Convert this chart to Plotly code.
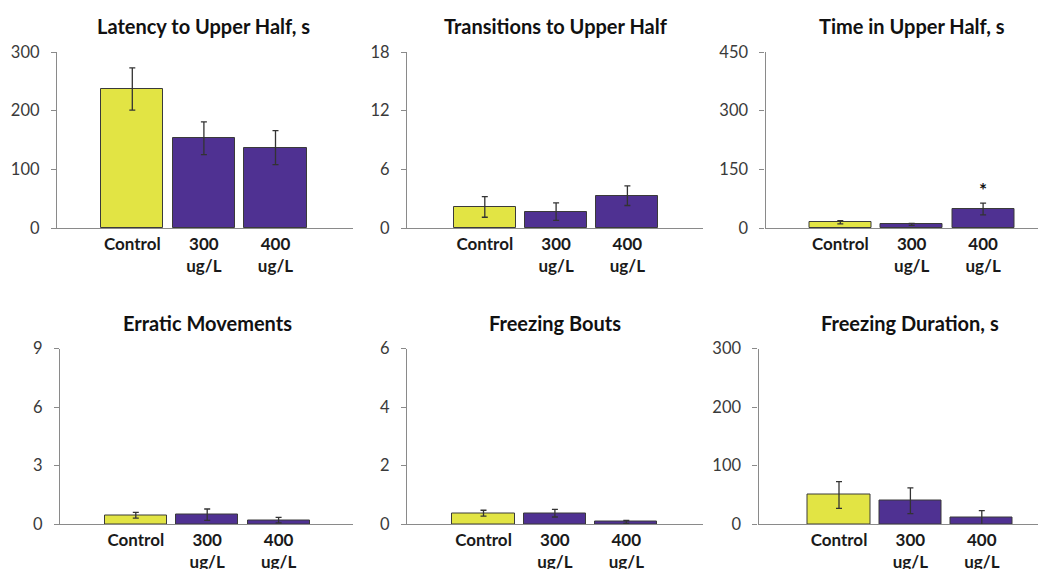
import plotly.graph_objects as go

categories = ["Control", "300<br>ug/L", "400<br>ug/L"]
titles = ["Latency to Upper Half, s", "Transitions to Upper Half", "Time in Upper Half, s",
          "Erratic Movements", "Freezing Bouts", "Freezing Duration, s"]

latency = [237, 153, 137]
latency_err = [36, 28, 29]
transitions = [2.15, 1.67, 3.3]
transitions_err = [1.05, 0.9, 1.0]
time_upper = [14.6, 9.4, 48.6]
time_upper_err = [4, 2.6, 15]
erratic = [0.45, 0.48, 0.2]
erratic_err = [0.15, 0.29, 0.14]
freezing_bouts = [0.37, 0.37, 0.07]
freezing_bouts_err = [0.1, 0.13, 0.05]
freezing_dur = [49.6, 39.9, 10.8]
freezing_dur_err = [23, 22, 12]

yticks = [[0, 100, 200, 300], [0, 6, 12, 18], [0, 150, 300, 450],
          [0, 3, 6, 9], [0, 2, 4, 6], [0, 100, 200, 300]]

values = [latency, transitions, time_upper, erratic, freezing_bouts, freezing_dur]
errors = [latency_err, transitions_err, time_upper_err, erratic_err, freezing_bouts_err, freezing_dur_err]
signif = [None, None, 2, None, None, None]  # index of bar with asterisk

YELLOW = "#E2E444"
PURPLE = "#4F3192"
colors = [YELLOW, PURPLE, PURPLE]

W, H = 1046, 569
OFF = 8  # default page body margin
# pixel geometry per panel: axis left, axis right, first bar center, spacing, zero y, top y
geom = [
    (57, 353, 132.3, 71.6, 228, 52),
    (407, 703, 484.8, 71.3, 228, 52),
    (765.5, 1054, 840.3, 71.4, 228, 52),
    (60, 353, 135.8, 71.4, 524, 348.5),
    (407, 703, 483.5, 71.4, 524, 348.5),
    (758.5, 1054, 839.0, 71.4, 524, 348.5),
]


def px(x):
    return (x - OFF) / W


def py(y):
    return 1 - (y - OFF) / H


FONT = "Lato"
fig = go.Figure()
layout = {}
for i in range(6):
    n = "" if i == 0 else str(i + 1)
    L, R, c0, sp, y0, y1 = geom[i]
    xs = [0, 1, 2]
    fig.add_trace(go.Bar(
        x=xs, y=values[i], width=0.87,
        marker=dict(color=colors, line=dict(color="#3a3a3a", width=1)),
        error_y=dict(type="data", array=errors[i], visible=True, color="#333333",
                     thickness=1.3, width=3),
        xaxis="x" + n, yaxis="y" + n, showlegend=False,
    ))
    layout["xaxis" + n] = dict(
        domain=[px(L), min(px(R), 1.0)], range=[(L - c0) / sp, (min(R, OFF + W) - c0) / sp],
        anchor="y" + n, showline=True, linecolor="#8a8a8a", linewidth=1.3,
        showgrid=False, zeroline=False, ticks="", automargin=False,
        tickvals=xs, ticktext=categories,
        tickfont=dict(family=FONT, size=17, color="#1a1a1a", weight="bold"),
        fixedrange=True,
    )
    layout["yaxis" + n] = dict(
        domain=[py(y0), py(y1)], range=[0, yticks[i][-1]],
        anchor="x" + n, showline=True, linecolor="#8a8a8a", linewidth=1.3,
        showgrid=False, zeroline=False, ticks="outside", ticklen=5, tickcolor="#8a8a8a",
        tickvals=yticks[i], ticklabelstandoff=8, automargin=False,
        tickfont=dict(family=FONT, size=16.5, color="#3a3a3a"),
        fixedrange=True,
    )
    fig.add_annotation(
        x=1, xref="x" + n, y=py(y1 - 26), yref="paper",
        text="<b>" + titles[i] + "</b>", showarrow=False,
        font=dict(family=FONT, size=20, color="#111111"),
        xanchor="center", yanchor="middle",
    )
    if signif[i] is not None:
        k = signif[i]
        fig.add_annotation(
            x=k, xref="x" + n, y=values[i][k] + errors[i][k], yref="y" + n,
            text="<b>*</b>", showarrow=False, yanchor="bottom", yshift=0,
            font=dict(family=FONT, size=19, color="#111111"),
        )

fig.update_layout(
    width=W, height=H, margin=dict(l=0, r=0, t=0, b=0, autoexpand=False),
    paper_bgcolor="white", plot_bgcolor="white", bargap=0,
    **layout,
)
fig.write_html("out.html")
